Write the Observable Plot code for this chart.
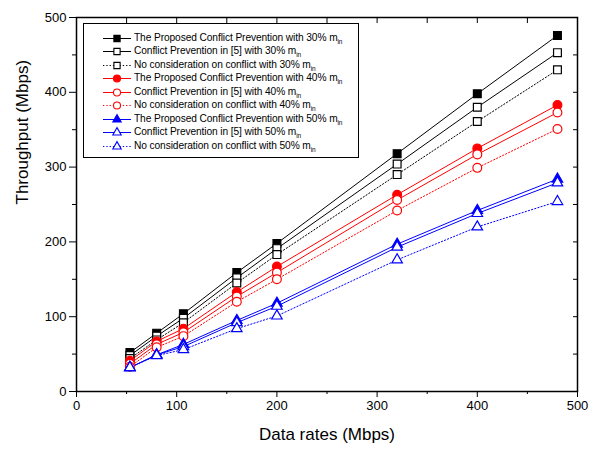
<!DOCTYPE html>
<html><head><meta charset="utf-8">
<script src="https://cdn.jsdelivr.net/npm/d3@7"></script>
<script src="https://cdn.jsdelivr.net/npm/@observablehq/plot@0.6"></script>
<style>
body{margin:0;background:#fff;font-family:"Liberation Sans",Arial,sans-serif;}
#wrap{position:relative;width:594px;height:451px;}
#legend{position:absolute;left:83px;top:23px;width:276px;height:135px;border:1px solid #000;background:#fff;box-sizing:border-box;}
.row{position:absolute;left:19px;height:13px;display:flex;align-items:center;font-size:10.2px;white-space:nowrap;color:#000;letter-spacing:-0.1px;}
.row svg{margin-right:3px;flex:none;}
.row sub{font-size:6.5px;vertical-align:-3px;}
</style></head><body><div id="wrap"></div>
<script>
// ---- data ----
const rates = [53.3, 80, 106.7, 160, 200, 320, 400, 480];
const proposed30 = [52, 78, 104, 159, 198, 318, 398, 476];
const cp30       = [48, 74, 98, 152, 191, 304, 380, 453];
const nc30       = [44, 69, 92, 145, 183, 290, 361, 430];
const proposed40 = [41, 67, 84, 133, 167, 263, 325, 383];
const cp40       = [37, 63, 79, 127, 159, 256, 317, 373];
const nc40       = [33, 59, 74, 120, 150, 242, 299, 351];
const proposed50 = [32, 49, 63, 95, 118, 197, 242, 284];
const cp50       = [32, 49, 60, 92, 114, 193, 238, 279];
const nc50       = [32, 48, 56, 84, 101, 176, 220, 254];
const seriesNames = [
  "The Proposed Conflict Prevention with 30% m",
  "Conflict Prevention in [5] with 30% m",
  "No consideration on conflict with 30% m",
  "The Proposed Conflict Prevention with 40% m",
  "Conflict Prevention in [5] with 40% m",
  "No consideration on conflict with 40% m",
  "The Proposed Conflict Prevention with 50% m",
  "Conflict Prevention in [5] with 50% m",
  "No consideration on conflict with 50% m"
];
const subscript = "in";
const seriesValues = [proposed30, cp30, nc30, proposed40, cp40, nc40, proposed50, cp50, nc50];
const xMajor = [0, 100, 200, 300, 400, 500];
const xMinor = [50, 150, 250, 350, 450];
const yMajor = [0, 100, 200, 300, 400, 500];
const yMinor = [50, 150, 250, 350, 450];
const xLabel = "Data rates (Mbps)";
const yLabel = "Throughput (Mbps)";

// ---- styles ----
const colors = ["#000000", "#000000", "#000000", "#ff0000", "#ff0000", "#ff0000", "#0000ff", "#0000ff", "#0000ff"];
const symbols = ["square", "square", "square", "circle", "circle", "circle", "triangle", "triangle", "triangle"];
const filled = [true, false, false, true, false, false, true, false, false];
const dotted = [false, false, true, false, false, true, false, false, true];
const radii = {square: 4.4, circle: 4.4, triangle: 3.9};

const table = seriesValues.flatMap((vals, i) => rates.map((r, j) => ({s: i, x: r, y: vals[j]})));
const marks = [];
seriesNames.forEach((n, i) => {
  marks.push(Plot.line(table.filter(d => d.s === i), {
    x: "x", y: "y", stroke: colors[i], strokeWidth: 1,
    strokeDasharray: dotted[i] ? "1.3,2" : null
  }));
});
seriesNames.forEach((n, i) => {
  marks.push(Plot.dot(table.filter(d => d.s === i), {
    x: "x", y: "y", symbol: symbols[i], r: radii[symbols[i]],
    stroke: colors[i], fill: filled[i] ? colors[i] : "#fff", strokeWidth: 1.2
  }));
});

const blank = () => "";
const chart = Plot.plot({
  width: 594, height: 451,
  marginLeft: 76, marginRight: 17, marginTop: 17, marginBottom: 60,
  style: {fontFamily: "'Liberation Sans', Arial, sans-serif", fontSize: "13px", color: "#000", background: "#fff"},
  x: {domain: [0, 500]},
  y: {domain: [0, 500]},
  marks: [
    ...marks,
    Plot.frame({stroke: "#000", strokeWidth: 1.5}),
    Plot.axisX({anchor: "bottom", ticks: xMajor, tickSize: 6, tickPadding: 3, fontSize: 13, label: null}),
    Plot.axisX({anchor: "bottom", ticks: xMinor, tickSize: 3, tickFormat: blank, label: null}),
    Plot.axisX({anchor: "top", ticks: [...xMajor, ...xMinor], tickSize: 5, dy: 5, tickFormat: blank, label: null}),
    Plot.axisY({anchor: "left", ticks: yMajor, tickSize: 7, tickPadding: 3, fontSize: 13, label: null}),
    Plot.axisY({anchor: "left", ticks: yMinor, tickSize: 4, tickFormat: blank, label: null}),
    Plot.axisY({anchor: "right", ticks: [...yMajor, ...yMinor], tickSize: 5, dx: -5, tickFormat: blank, label: null}),
    Plot.text([xLabel], {frameAnchor: "bottom", dy: 48, fontSize: 17, fontWeight: "normal", text: d => d}),
    Plot.text([yLabel], {frameAnchor: "left", dx: -54, rotate: -90, fontSize: 17, fontWeight: "normal", text: d => d})
  ]
});
const wrap = document.getElementById("wrap");
wrap.appendChild(chart);

// ---- legend overlay ----
const legend = document.createElement("div");
legend.id = "legend";
const ns = "http://www.w3.org/2000/svg";
seriesNames.forEach((name, i) => {
  const row = document.createElement("div");
  row.className = "row";
  row.style.top = (7.5 + i * 13.5) + "px";
  const svg = document.createElementNS(ns, "svg");
  svg.setAttribute("width", 28); svg.setAttribute("height", 13);
  const line = document.createElementNS(ns, "line");
  line.setAttribute("x1", 0); line.setAttribute("x2", 28);
  line.setAttribute("y1", 6.5); line.setAttribute("y2", 6.5);
  line.setAttribute("stroke", colors[i]);
  if (dotted[i]) line.setAttribute("stroke-dasharray", "1.3,2");
  svg.appendChild(line);
  const sym = document.createElementNS(ns, "path");
  const sType = {square: d3.symbolSquare, circle: d3.symbolCircle, triangle: d3.symbolTriangle}[symbols[i]];
  const r = radii[symbols[i]] * 0.8;
  sym.setAttribute("d", d3.symbol(sType, Math.PI * r * r)());
  sym.setAttribute("transform", "translate(14,6.5)");
  sym.setAttribute("stroke", colors[i]);
  sym.setAttribute("stroke-width", 1.1);
  sym.setAttribute("fill", filled[i] ? colors[i] : "#fff");
  svg.appendChild(sym);
  row.appendChild(svg);
  const span = document.createElement("span");
  span.textContent = name;
  const sub = document.createElement("sub");
  sub.textContent = subscript;
  span.appendChild(sub);
  row.appendChild(span);
  legend.appendChild(row);
});
wrap.appendChild(legend);
</script>
</body></html>
